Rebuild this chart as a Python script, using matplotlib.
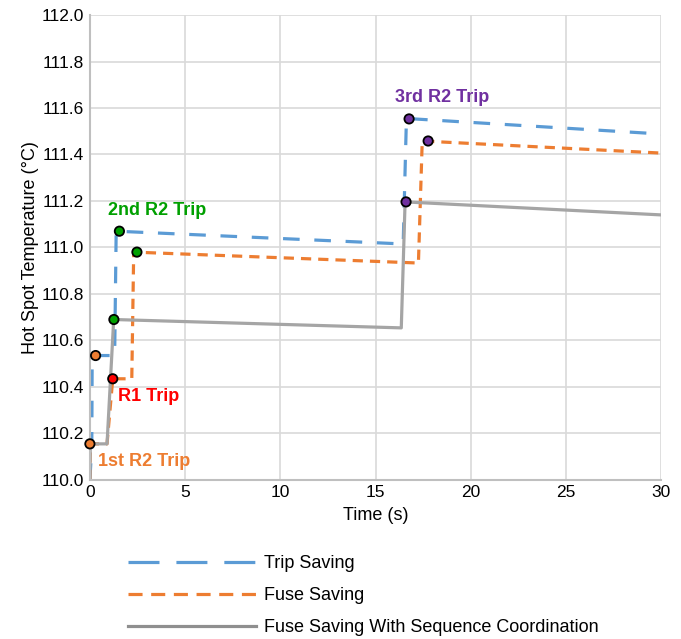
import matplotlib
matplotlib.use("Agg")
import matplotlib.pyplot as plt
from matplotlib.lines import Line2D

plt.rcParams['font.family'] = ['Liberation Sans', 'DejaVu Sans']

# Datos
t_trip = [0, 0.1, 0.12, 1.3, 1.38, 16.45, 16.62, 30]
T_trip = [110.0, 110.15, 110.535, 110.535, 111.07, 111.015, 111.555, 111.488]

t_fuse = [0, 0.02, 0.9, 1.2, 2.2, 2.3, 17.25, 17.45, 30]
T_fuse = [110.0, 110.155, 110.155, 110.435, 110.435, 110.98, 110.933, 111.458, 111.406]

t_seq = [0, 0.02, 0.9, 1.25, 16.35, 16.55, 30]
T_seq = [110.0, 110.155, 110.155, 110.69, 110.654, 111.196, 111.14]

# Puntos de disparo (t, T, color)
trip_t = [0.0, 0.3, 1.2, 1.26, 1.55, 2.47, 16.6, 16.76, 17.76]
trip_T = [110.155, 110.535, 110.435, 110.69, 111.07, 110.98, 111.196, 111.553, 111.458]
trip_c = ['#ED7D31', '#ED7D31', '#FF0000', '#00A000', '#00A000', '#00A000',
          '#7030A0', '#7030A0', '#7030A0']

labels = ['1st R2 Trip', 'R1 Trip', '2nd R2 Trip', '3rd R2 Trip']
label_t = [0.42, 1.47, 0.95, 16.03]
label_T = [110.077, 110.357, 111.16, 111.647]
label_c = ['#ED7D31', '#FF0000', '#00A000', '#7030A0']

series_names = ['Trip Saving', 'Fuse Saving', 'Fuse Saving With Sequence Coordination']

fig = plt.figure(figsize=(6.81, 6.39), dpi=100)
ax = fig.add_axes([0.132, 0.249, 0.839, 0.7275])

ax.plot(t_trip, T_trip, color='#5B9BD5', lw=2.3, dashes=(5.2, 4.6))
ax.plot(t_fuse, T_fuse, color='#ED7D31', lw=2.3, dashes=(3.2, 2.2))
ax.plot(t_seq, T_seq, color='#A5A5A5', lw=2.3)

ax.scatter(trip_t, trip_T, s=45, c=trip_c, edgecolors='black', linewidths=1.3, zorder=5, clip_on=False)

for txt, x, y, c in zip(labels, label_t, label_T, label_c):
    ax.text(x, y, txt, color=c, fontsize=13, fontweight='bold', va='center', ha='left')

ax.set_xlim(0, 30)
ax.set_ylim(110.0, 112.0)
ax.set_xticks(range(0, 31, 5))
ax.set_yticks([110.0 + 0.2 * i for i in range(11)])
ax.set_yticklabels([f"{110.0 + 0.2 * i:.1f}" for i in range(11)])
ax.grid(True, color='#D9D9D9', lw=1.2)
ax.set_axisbelow(True)
for s in ['top', 'right']:
    ax.spines[s].set_visible(False)
for s in ['left', 'bottom']:
    ax.spines[s].set_color('#BFBFBF')
    ax.spines[s].set_linewidth(1.5)
ax.tick_params(length=0, labelsize=12.5, pad=4)
ax.set_xlabel("Time (s)", fontsize=13, labelpad=5)
ax.set_ylabel("Hot Spot Temperature (°C)", fontsize=13, labelpad=2)

# leyenda con trazos propios (mas largos que en la grafica)
h1 = Line2D([], [], color='#5B9BD5', lw=2.3, dashes=(9.7, 5.3))
h2 = Line2D([], [], color='#ED7D31', lw=2.3, dashes=(4.4, 2.7))
h3 = Line2D([], [], color='#8F8F8F', lw=2.3)
fig.legend(handles=[h1, h2, h3], labels=series_names, loc='upper left',
           bbox_to_anchor=(0.178, 0.142), frameon=False, fontsize=13,
           handlelength=7.05, labelspacing=0.82, handletextpad=0.45, borderaxespad=0)

fig.savefig("out.png", dpi=100)
